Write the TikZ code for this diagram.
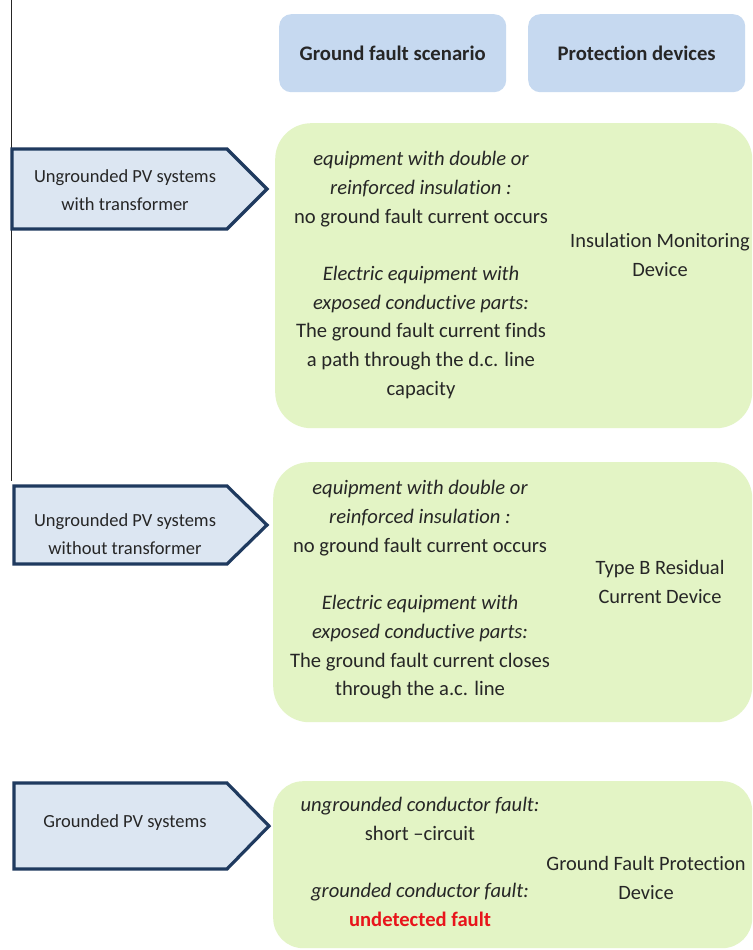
\documentclass[tikz,border=0pt]{standalone}
\usepackage{fontspec}
\setmainfont{Carlito}[Ligatures=NoCommon]
\begin{document}
\begin{tikzpicture}[x=1pt,y=-1pt,
  every node/.style={text=txtgray},
  hdr/.style={draw=none,fill=hdrblue,rounded corners=12pt,anchor=north west,inner sep=0pt},
  hdrtext/.style={font=\fontsize{20.7}{24}\selectfont\bfseries},
  gbox/.style={draw=none,fill=boxgreen,rounded corners=36pt,anchor=north west,inner sep=0pt},
  arrowshape/.style={draw=navy,line width=3.2pt,fill=arrfill,line join=miter},
  arrtext/.style={align=center,font=\fontsize{18.5}{28}\selectfont},
  body/.style={align=center,font=\fontsize{20.6}{28.7}\selectfont},
  dev/.style={align=center,font=\fontsize{20.4}{29}\selectfont}
]
\definecolor{txtgray}{HTML}{262626}
\definecolor{hdrblue}{HTML}{C6D9F0}
\definecolor{boxgreen}{HTML}{E3F4C5}
\definecolor{navy}{HTML}{1F3A5F}
\definecolor{arrfill}{HTML}{DCE6F2}
\definecolor{faultred}{HTML}{E8141B}
\useasboundingbox (0,0) rectangle (752,950);
\fill[white] (0,0) rectangle (752,950);

% vertical line
\coordinate (vt) at (11,0);
\coordinate (vb) at (11,481);
\draw[line width=1pt,black!85] (vt) -- (vb);

% headers
\node[hdr,minimum width=227pt,minimum height=78pt] (h1) at (279,14) {};
\node[hdrtext] (h1t) at (h1.center) {Ground fault scenario};
\node[hdr,minimum width=217pt,minimum height=78pt] (h2) at (528,14) {};
\node[hdrtext] (h2t) at (h2.center) {Protection devices};

% green boxes
\node[gbox,minimum width=477pt,minimum height=305pt] (g1) at (275,123) {};
\node[gbox,minimum width=479pt,minimum height=260pt] (g2) at (273,462) {};
\node[gbox,minimum width=479pt,minimum height=167pt,rounded corners=30pt] (g3) at (273,781) {};

% arrows
\draw[arrowshape] (12,149) -- (227,149) -- (267,189) -- (227,229) -- (12,229) -- cycle;
\draw[arrowshape] (14,486) -- (227,486) -- (267,525) -- (227,564) -- (14,564) -- cycle;
\draw[arrowshape] (14,783) -- (227,783) -- (269,826) -- (227,869) -- (14,869) -- cycle;

\node[arrtext] (a1) at (125,190) {Ungrounded PV systems\\with transformer};
\node[arrtext] (a2) at (125,534) {Ungrounded PV systems\\without transformer};
\node[arrtext] (a3) at (125,823) {Grounded PV systems};

% box 1
\node[body] (s1) at (421,275) {\itshape equipment with double or\\
  \itshape reinforced insulation :\\
  no ground fault current occurs\\[28.7pt]
  \itshape Electric equipment with\\
  \itshape exposed conductive parts:\\
  The ground fault current finds\\
  a path through the d.c. line\\
  capacity};
\node[dev] (d1) at (660,255) {Insulation Monitoring\\Device};

% box 2
\node[body] (s2) at (420,590) {\itshape equipment with double or\\
  \itshape reinforced insulation :\\
  no ground fault current occurs\\[28.6pt]
  \itshape Electric equipment with\\
  \itshape exposed conductive parts:\\
  The ground fault current closes\\
  through the a.c. line};
\node[dev] (d2) at (660,582) {Type B Residual\\Current Device};

% box 3
\node[body] (s3) at (420,862) {\itshape ungrounded conductor fault:\\
  short \textendash circuit\\[28.5pt]
  \itshape grounded conductor fault:\\
  \textcolor{faultred}{\bfseries undetected fault}};
\node[dev] (d3) at (646,878) {Ground Fault Protection\\Device};
\end{tikzpicture}
\end{document}
